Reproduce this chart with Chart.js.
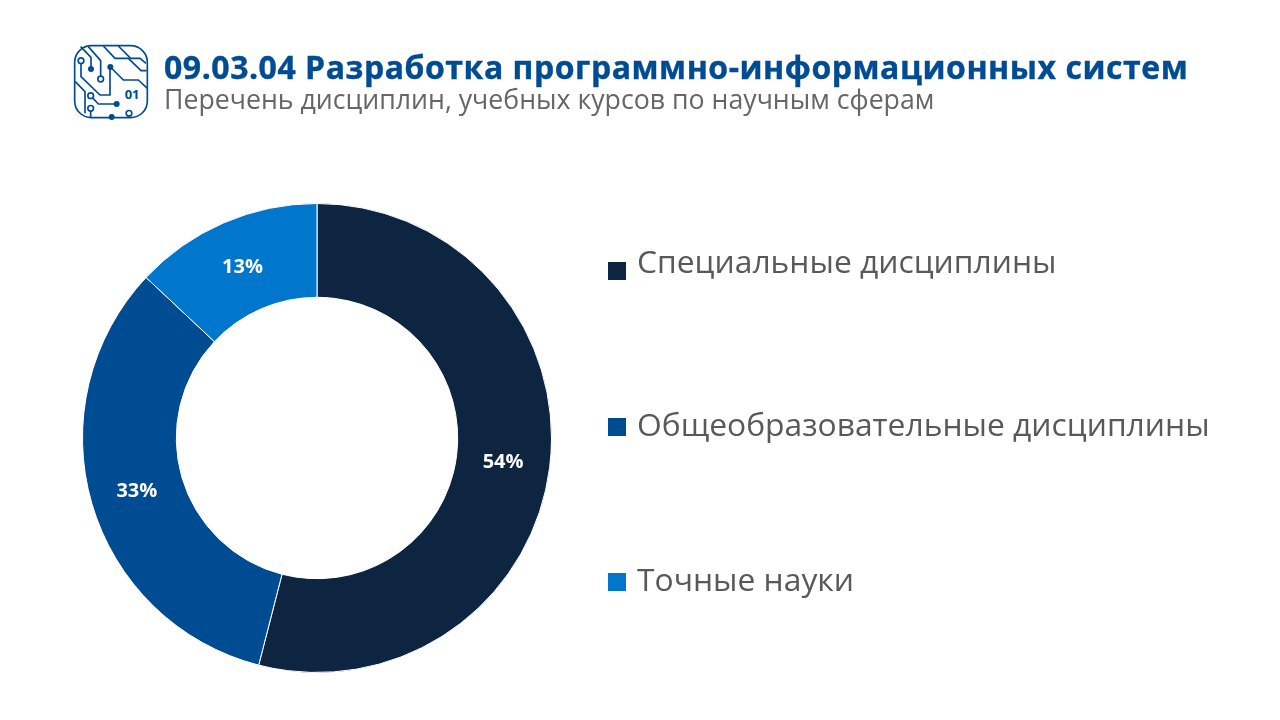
<!DOCTYPE html>
<html>
<head>
<meta charset="utf-8">
<script src="https://cdn.jsdelivr.net/npm/chart.js@4"></script>
<style>
html, body { margin: 0; padding: 0; background: #fff; }
body { width: 1280px; height: 720px; overflow: hidden; position: relative; font-family: "Open Sans", sans-serif; }
#title { position: absolute; left: 164px; top: 46px; font-size: 32px; font-weight: 700; color: #004c93; white-space: nowrap; line-height: 42px; letter-spacing: 0.53px; -webkit-text-stroke: 0.4px #004c93; will-change: transform; }
#subtitle { position: absolute; left: 164px; top: 81px; font-size: 26.7px; color: #666; white-space: nowrap; line-height: 36px; will-change: transform; }
#icon { position: absolute; left: 60px; top: 30px; }
#chartBox { position: absolute; left: 82px; top: 203px; width: 470px; height: 470px; }
.legendSwatch { position: absolute; left: 608px; width: 18px; height: 18px; }
.legendText { position: absolute; left: 636.5px; font-size: 31.8px; line-height: 42px; color: #595959; white-space: nowrap; will-change: transform; }
</style>
</head>
<body>
<svg id="icon" width="110" height="100" viewBox="0 0 330 300" fill="none" stroke="#004c93" stroke-width="5">
  <rect x="44" y="47" width="218" height="216" rx="50"/>
  <path d="M63 100 V140 L120 195 H150 V112"/>
  <path d="M93 117 V82 L62 50"/>
  <path d="M122 138 V92 L85 50"/>
  <path d="M151 111 L190 150 H235 L262 175"/>
  <path d="M130 48 L165 85 H205 L243 122 H260"/>
  <path d="M175 48 L212 85 L240 85 L258 100"/>
  <path d="M46 155 L75 185 V250"/>
  <path d="M92 197 L115 222 H170"/>
  <path d="M92 235 V262"/>
  <circle cx="63" cy="92" r="8.5" fill="#fff"/>
  <circle cx="122" cy="147" r="8.5" fill="#fff"/>
  <circle cx="92" cy="197" r="8.5" fill="#fff"/>
  <circle cx="92" cy="235" r="8.5" fill="#fff"/>
  <circle cx="207" cy="250" r="8.5" fill="#fff"/>
  <g fill="#004c93" stroke="none">
    <circle cx="93" cy="117" r="9"/>
    <circle cx="151" cy="111" r="9"/>
    <circle cx="170" cy="222" r="9"/>
    <circle cx="155" cy="261" r="9"/>
  </g>
  <text x="194" y="208" font-family="Open Sans" font-size="39" font-weight="700" fill="#004c93" stroke="none">01</text>
</svg>
<div id="title">09.03.04 Разработка программно-информационных систем</div>
<div id="subtitle">Перечень дисциплин, учебных курсов по научным сферам</div>
<div id="chartBox"><canvas id="donut"></canvas></div>
<script>
// categories and shares
var categories = ["Специальные дисциплины", "Общеобразовательные дисциплины", "Точные науки"];
var shares = [54, 33, 13];
var sliceColors = ["#0e2542", "#004c93", "#0077cc"];
var legendSwatchTops = [262, 418, 573];
var legendTextTops = [240, 403, 558];

// white percent labels in the middle of each ring segment
var percentLabels = {
    id: "percentLabels",
    afterDatasetsDraw: function (chart) {
        var c = chart.ctx;
        c.save();
        c.font = "700 20px 'Open Sans'";
        c.fillStyle = "#fff";
        c.textAlign = "center";
        c.textBaseline = "middle";
        chart.getDatasetMeta(0).data.forEach(function (arc, i) {
            var p = arc.tooltipPosition();
            c.fillText(shares[i] + "%", p.x, p.y + 1);
        });
        c.restore();
    }
};

window.onload = function () {
    var ctx = document.getElementById("donut");
    new Chart(ctx, {
        type: "doughnut",
        data: {
            labels: categories,
            datasets: [{ data: shares, backgroundColor: sliceColors, borderColor: "#fff", borderWidth: 1 }]
        },
        options: {
            responsive: true,
            maintainAspectRatio: false,
            animation: false,
            cutout: "60%",
            layout: { padding: 0 },
            plugins: { legend: { display: false }, tooltip: { enabled: false } }
        },
        plugins: [percentLabels]
    });

    categories.forEach(function (name, i) {
        var sw = document.createElement("div");
        sw.className = "legendSwatch";
        sw.style.top = legendSwatchTops[i] + "px";
        sw.style.background = sliceColors[i];
        document.body.appendChild(sw);
        var tx = document.createElement("div");
        tx.className = "legendText";
        tx.style.top = legendTextTops[i] + "px";
        tx.textContent = name;
        document.body.appendChild(tx);
    });
};
</script>
</body>
</html>
